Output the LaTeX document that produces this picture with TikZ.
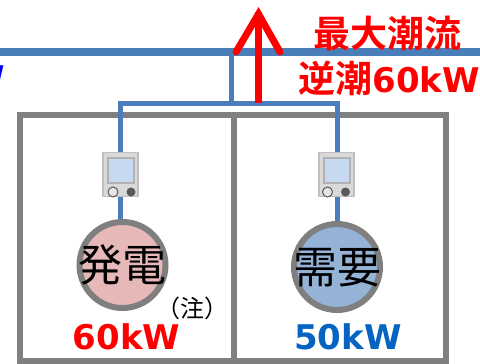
\documentclass[tikz,border=0pt]{standalone}
\usepackage{fontspec}
\newfontfamily\jpfont{Noto Sans CJK JP}
\newfontfamily\jpbold{Noto Sans CJK JP Bold}
\newfontfamily\latinbold{DejaVu Sans Bold}
\definecolor{wire}{HTML}{4A7EBB}
\definecolor{wall}{HTML}{7F7F7F}
\definecolor{gen}{HTML}{E6B9B8}
\definecolor{load}{HTML}{95B3D7}
\definecolor{valblue}{HTML}{0563C1}
\definecolor{scr}{HTML}{C6D9F1}
\newcommand{\pxfont}[1]{\fontsize{#1}{#1}\selectfont}
\tikzset{
  wirel/.style={draw=wire,line width=5pt},
  bus/.style={draw=wire,line width=7.5pt},
  wallline/.style={draw=wall,line width=6pt},
  source/.style={circle,draw=wall,line width=6pt,minimum size=86pt,inner sep=0pt,text=black,font=\jpfont\pxfont{44}},
  meterbody/.style={rectangle,draw=black!25,fill=black!15,line width=1.5pt,minimum width=35pt,minimum height=44pt,inner sep=0pt},
  meterscreen/.style={rectangle,draw=black!30,fill=scr,line width=2pt,minimum width=26pt,minimum height=25pt,inner sep=0pt},
  txt/.style={inner sep=0pt,anchor=center},
}
\begin{document}
\begin{tikzpicture}[x=1pt,y=-1pt]
\useasboundingbox (0,0) rectangle (480,364);
% coordinates
\coordinate (busL) at (0,52);
\coordinate (busR) at (480,52);
\coordinate (busT) at (231.5,52);
\coordinate (busJ) at (231.5,106);
\coordinate (hL) at (120,103.5);
\coordinate (hR) at (337,103.5);
% building
\draw[wallline] (20,115) rectangle (445.5,361);
\draw[wallline] (234,112) -- (234,364);
% nodes
\node[meterbody] (m1) at (120.5,174.5) {};
\node[meterbody] (m2) at (336.5,174.5) {};
\node[source,fill=gen] (s1) at (122.5,265) {};
\node[source,fill=load] (s2) at (337,267) {};
% wires
\draw[bus] (busL) -- (busR);
\draw[wirel] (busT) -- (busJ);
\draw[wirel] (hL) -- (hR);
\draw[wirel] (120,101) -- (m1.north -| 120,0);
\draw[wirel] (337,101) -- (m2.north -| 337,0);
\draw[wirel] (m1.south -| 120,0) -- (s1.north -| 120,0);
\draw[wirel] (m2.south -| 337,0) -- (s2.north);
% meter faces
\node[meterscreen] (sc1) at (120.5,170) {};
\node[meterscreen] (sc2) at (336.5,170) {};
\node[circle,draw=black!65,fill=black!10,line width=1pt,minimum size=10pt,inner sep=0pt] (b1) at (113,192) {};
\node[circle,fill=black!65,minimum size=9pt,inner sep=0pt] (c1) at (131,192) {};
\node[circle,draw=black!65,fill=black!10,line width=1pt,minimum size=10pt,inner sep=0pt] (b2) at (327.5,192) {};
\node[circle,fill=black!65,minimum size=9pt,inner sep=0pt] (c2) at (345.5,192) {};
% arrow
\coordinate (aBase) at (258.5,103);
\coordinate (aTip) at (258.5,12);
\draw[red,line width=7.5pt] (aBase) -- (aTip);
\draw[red,line width=7pt,line cap=round,line join=miter] (236,52) -- (258.5,14) -- (280,52);
% labels
\node[txt,text=black,font=\jpfont\pxfont{44}] (t1) at (122.5,265) {発電};
\node[txt,text=black,font=\jpfont\pxfont{44}] (t2) at (337,268) {需要};
\node[txt,font=\jpfont\pxfont{24}] (t3) at (192.5,308) {（注）};
\node[txt,text=red,font=\latinbold\pxfont{34}] (t4) at (126.5,337) {60kW};
\node[txt,text=valblue,font=\latinbold\pxfont{34}] (t5) at (348,337) {50kW};
\node[txt,text=red,font=\jpbold\pxfont{37}] (t6) at (387.5,33) {最大潮流};
\node[txt,text=red,anchor=east] (t7) at (480,78) {{\jpbold\pxfont{37}逆潮}{\latinbold\pxfont{34}60kW}};
\node[txt,text=blue,font=\latinbold\pxfont{34},anchor=east] (t8) at (5,78) {W};
\end{tikzpicture}
\end{document}
